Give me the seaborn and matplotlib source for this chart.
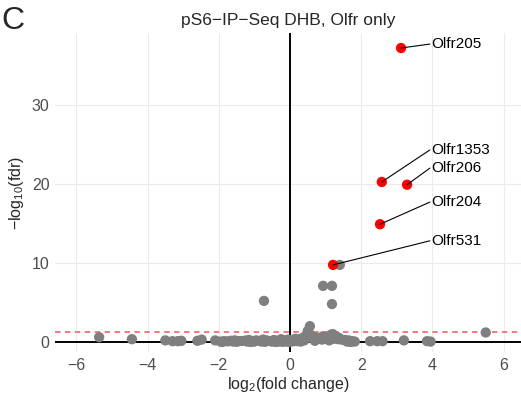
import numpy as np
import pandas as pd
import matplotlib
matplotlib.use("Agg")
import matplotlib.pyplot as plt
import seaborn as sns

# ---- data ----
hit_genes = ["Olfr205", "Olfr1353", "Olfr206", "Olfr204", "Olfr531"]
hit_lfc = [3.12, 2.58, 3.29, 2.53, 1.21]
hit_nlf = [37.2, 20.25, 19.9, 14.9, 9.75]

other_lfc = [1.40, 0.93, 1.18, 1.18, -0.73, 0.56, 0.50, 5.50, -5.36, -4.44,
             -3.50, -3.30, -3.15, -3.05, -2.60, -2.48, -2.10, 2.25, 2.45, 2.60,
             3.20, 3.85, 3.95,
             -1.95, -1.85, -1.75, -1.65, -1.60, -1.55, -1.45, -1.35, -1.25, -1.20,
             -1.15, -1.05, -0.95, -0.85, -0.80, -0.75, -0.65, -0.55, -0.45, -0.35,
             -0.30, -0.25, -0.15, -0.05, 0.05, 0.15, 0.20, 0.25, 0.35, 0.42,
             0.48, 0.55, 0.60, 0.62, 0.70, 0.78, 0.85, 0.90, 0.92, 1.00,
             1.08, 1.15, 1.20, 1.22, 1.30, 1.35, 1.38, 1.45, 1.55, 1.65,
             1.75, 1.82, 0.30, 0.10, -0.10, -0.50, -1.00, 0.40, 0.70, 1.10,
             -1.90, -1.50, -1.10, -0.70, -0.40, -0.20, 0.00, 1.60, 1.70]
other_nlf = [9.75, 7.10, 7.10, 4.80, 5.20, 2.00, 1.40, 1.20, 0.60, 0.35,
             0.20, 0.10, 0.10, 0.15, 0.15, 0.30, 0.20, 0.10, 0.10, 0.10,
             0.20, 0.10, 0.05,
             0.05, 0.10, 0.08, 0.15, 0.05, 0.20, 0.10, 0.12, 0.18, 0.05,
             0.25, 0.10, 0.20, 0.15, 0.05, 0.30, 0.20, 0.10, 0.25, 0.15,
             0.05, 0.35, 0.20, 0.30, 0.25, 0.40, 0.10, 0.35, 0.50, 0.70,
             0.90, 1.00, 0.80, 0.50, 0.60, 0.40, 0.45, 0.30, 0.70, 0.50,
             0.60, 0.90, 1.00, 0.40, 0.70, 0.35, 0.50, 0.30, 0.25, 0.20,
             0.10, 0.05, 0.05, 0.10, 0.05, 0.05, 0.05, 0.20, 0.15, 0.20,
             0.00, 0.02, 0.00, 0.02, 0.00, 0.02, 0.00, 0.05, 0.00]

fdr_cut = 0.05
title = "pS6\u2212IP\u2212Seq DHB, Olfr only"
panel_letter = "C"
x_ticks = [-6, -4, -2, 0, 2, 4, 6]
y_ticks = [0, 10, 20, 30]

# label text positions (layout)
lab_text_x = 3.93
lab_text_y = [37.7, 24.3, 22.0, 17.7, 12.8]

df_other = pd.DataFrame({"lfc": other_lfc, "nlf": other_nlf})
df_hit = pd.DataFrame({"gene": hit_genes, "lfc": hit_lfc, "nlf": hit_nlf})

# ---- style ----
sns.set_theme(style="white")
plt.rcParams["font.family"] = ["Liberation Sans", "DejaVu Sans"]
plt.rcParams["mathtext.fontset"] = "custom"
plt.rcParams["mathtext.rm"] = "Liberation Sans"
plt.rcParams["mathtext.it"] = "Liberation Sans"

fig = plt.figure(figsize=(5.21, 3.98), dpi=100)
ax = fig.add_axes([55 / 521, 1 - 352 / 398, 1 - 55 / 521, (352 - 33) / 398])

ax.set_xlim(-6.60, 6.49)
ax.set_ylim(-1.27, 39.1)
ax.set_xticks(x_ticks)
ax.set_yticks(y_ticks)
ax.set_xticklabels(["\u2212" + str(-t) if t < 0 else str(t) for t in x_ticks])
ax.grid(True, color="#EBEBEB", linewidth=0.8)
ax.set_axisbelow(True)
for s in ax.spines.values():
    s.set_visible(False)

ax.axhline(0, color="black", linewidth=1.4, zorder=1)
ax.axvline(0, color="black", linewidth=1.4, zorder=1)
ax.axhline(-np.log10(fdr_cut), color="#F07070", linewidth=1.3,
           linestyle=(0, (3, 2.5)), zorder=1)

sns.scatterplot(data=df_other, x="lfc", y="nlf", ax=ax, color="#7F7F7F",
                s=55, edgecolor="none", zorder=3)
sns.scatterplot(data=df_hit, x="lfc", y="nlf", ax=ax, color="#FF0000",
                s=55, edgecolor="none", zorder=4)

for g, x, y, ty in zip(hit_genes, hit_lfc, hit_nlf, lab_text_y):
    ax.plot([x, lab_text_x], [y, ty], color="black", linewidth=0.8, zorder=5)
    ax.text(lab_text_x + 0.05, ty, g, fontsize=11, va="center", ha="left",
            color="black", zorder=6)

ax.tick_params(axis="both", labelsize=11.5, labelcolor="#4D4D4D", length=0, pad=4)
ax.set_xlabel(r"log$_2$(fold change)", fontsize=11.5, labelpad=2)
ax.set_ylabel(r"$-$log$_{10}$(fdr)", fontsize=11.5, labelpad=4)
ax.set_title(title, fontsize=12.5, pad=6)

fig.text(0.002, 0.947, panel_letter, fontsize=23, va="center", ha="left")

fig.savefig("out.png", dpi=100)
